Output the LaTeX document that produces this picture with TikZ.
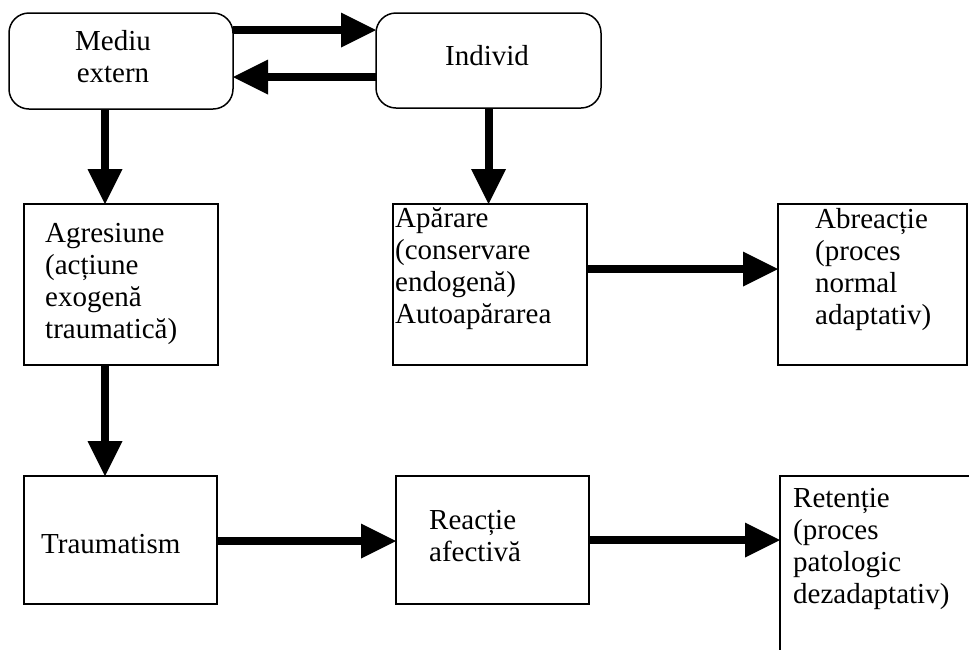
\documentclass[tikz,border=0pt]{standalone}
\usepackage{fontspec}
\setmainfont{Liberation Serif}
\usetikzlibrary{arrows.meta}
\begin{document}
\begin{tikzpicture}[x=1pt,y=-1pt,
  box/.style={draw, line width=1.5pt, rectangle, inner sep=0pt, outer sep=0pt, anchor=north west},
  rbox/.style={box, rounded corners=20pt},
  lbl/.style={font=\fontsize{29}{32}\selectfont, inner sep=0pt, align=left, anchor=base west},
  arr/.style={line width=8pt, -{Triangle[length=35pt,width=35pt,line width=0pt]}}]
\useasboundingbox (0,0) rectangle (969,649);
\clip (0,0) rectangle (969,649);
% boxes
\node[rbox, minimum width=224pt, minimum height=96pt] (mediu) at (9,13) {};
\node[rbox, minimum width=225pt, minimum height=95pt] (individ) at (376,13) {};
\node[box, minimum width=194pt, minimum height=161pt] (agres) at (24,204) {};
\node[box, minimum width=194pt, minimum height=161pt] (apar) at (393,204) {};
\node[box, minimum width=189pt, minimum height=161pt] (abre) at (778,204) {};
\node[box, minimum width=193pt, minimum height=128pt] (trauma) at (24,476) {};
\node[box, minimum width=193pt, minimum height=128pt] (reac) at (396,476) {};
\node[box, minimum width=220pt, minimum height=220pt] (reten) at (780,476) {};
% texts (anchor = baseline of the last line)
\node[lbl, align=center, anchor=base] (tmediu) at (113,82) {Mediu\\extern};
\node[lbl, anchor=base] (tindivid) at (487,65) {Individ};
\node[lbl] (tagres) at (45,338) {Agresiune\\(acțiune\\exogenă\\traumatică)};
\node[lbl] (tapar) at (395,323) {Apărare\\(conservare\\endogenă)\\Autoapărarea};
\node[lbl] (tabre) at (815,324) {Abreacție\\(proces\\normal\\adaptativ)};
\node[lbl] (ttrauma) at (41,553) {Traumatism};
\node[lbl] (treac) at (429,561) {Reacție\\afectivă};
\node[lbl] (treten) at (793,603) {Retenție\\(proces\\patologic\\dezadaptativ)};
% helper coordinates
\coordinate (r1) at (0,30);
\coordinate (r2) at (0,77);
\coordinate (r3) at (0,269);
\coordinate (r4) at (0,541);
\coordinate (r5) at (0,540);
\coordinate (c1) at (105,0);
% arrows
\draw[arr] (mediu.east |- r1) -- (individ.west |- r1);
\draw[arr] (individ.west |- r2) -- (mediu.east |- r2);
\draw[arr] (mediu.south -| c1) -- (agres.north -| c1);
\draw[arr] (individ.south) -- (apar.north -| individ.south);
\draw[arr] (apar.east |- r3) -- (abre.west |- r3);
\draw[arr] (agres.south -| c1) -- (trauma.north -| c1);
\draw[arr] (trauma.east |- r4) -- (reac.west |- r4);
\draw[arr] (reac.east |- r5) -- (reten.west |- r5);
\end{tikzpicture}
\end{document}
